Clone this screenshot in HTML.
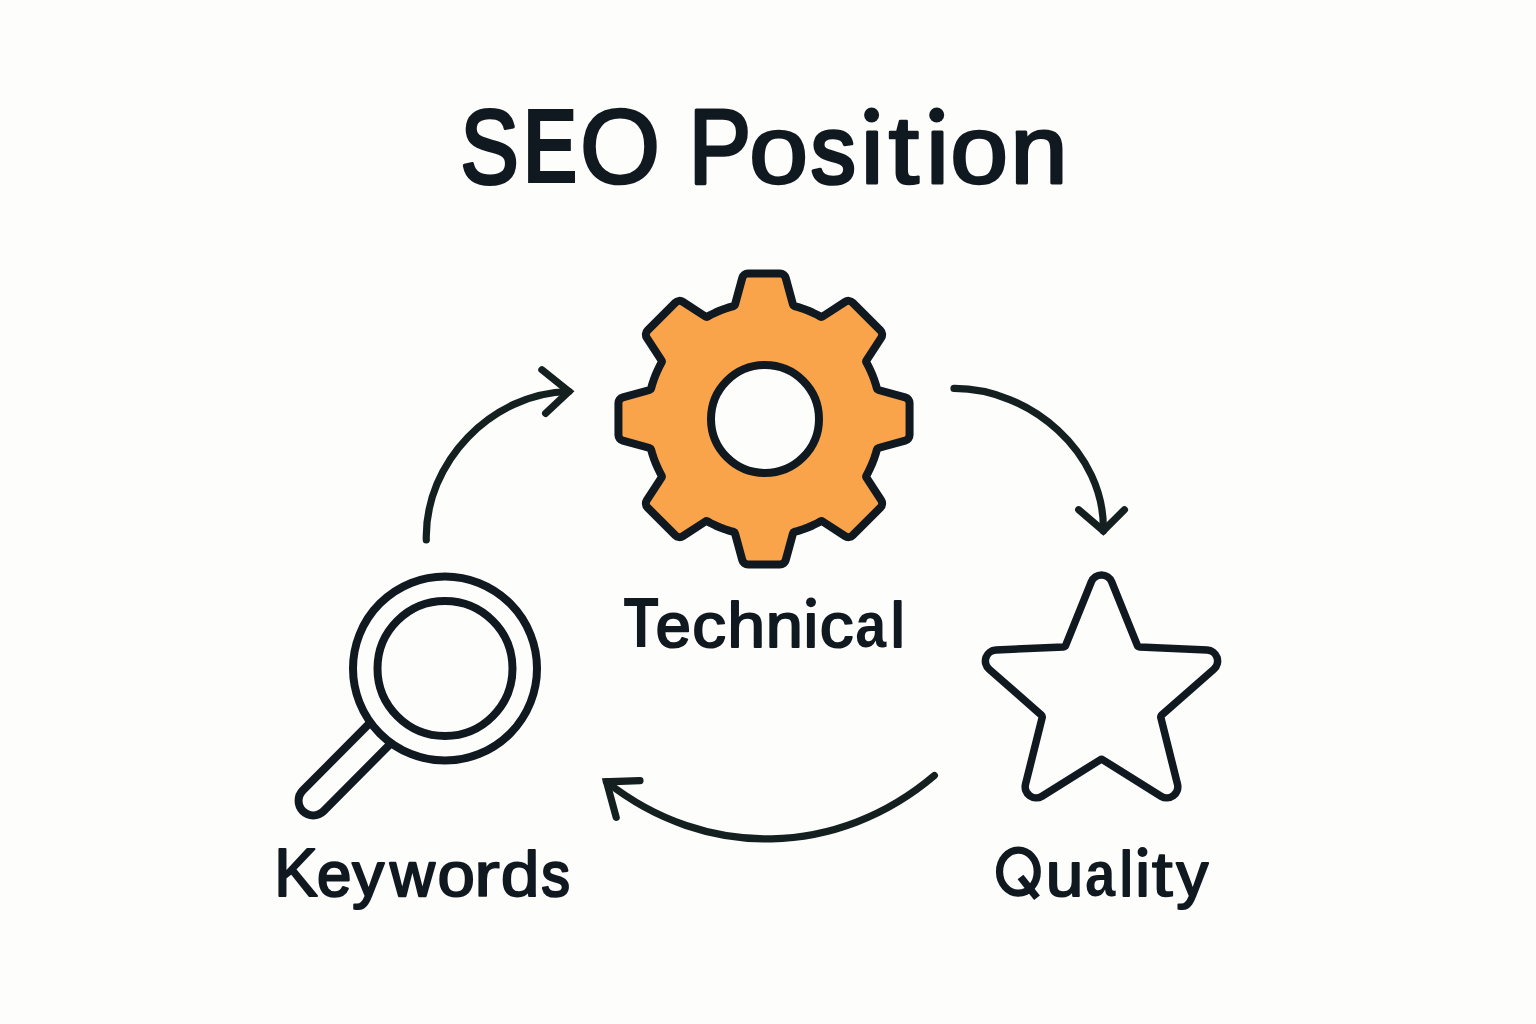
<!DOCTYPE html>
<html><head><meta charset="utf-8"><style>
html,body{margin:0;padding:0;background:#fdfdfb;}
svg{display:block}
</style></head><body>
<svg width="1536" height="1024" viewBox="0 0 1536 1024">
<rect width="1536" height="1024" fill="#fdfdfb"/>
<g font-family="'Liberation Sans', sans-serif" fill="#111920" stroke="#111920" stroke-linejoin="round">
<text transform="translate(460.55 182.50) scale(0.8262 0.9929)" font-size="105.50" font-weight="400" stroke-width="3.90">S</text>
<text transform="translate(522.51 182.50) scale(0.7924 1.0195)" font-size="105.50" font-weight="700" stroke-width="0.00">E</text>
<text transform="translate(579.72 182.50) scale(0.9824 1.0009)" font-size="105.50" font-weight="400" stroke-width="2.70">O</text>
<text transform="translate(688.60 182.50) scale(0.8917 0.9962)" font-size="105.50" font-weight="400" stroke-width="3.40">P</text>
<text transform="translate(749.04 182.50) scale(1.0092 0.9171)" font-size="105.50" font-weight="400" stroke-width="2.80">o</text>
<text transform="translate(810.70 182.50) scale(0.8540 0.9076)" font-size="105.50" font-weight="400" stroke-width="4.00">s</text>
<circle cx="871.60" cy="115.00" r="7.50" stroke="none"/>
<text transform="translate(858.25 182.50) scale(0.9469 0.9123)" font-size="105.50" font-weight="400" stroke-width="3.40">ı</text>
<text transform="translate(888.59 182.50) scale(1.0460 0.9187)" font-size="105.50" font-weight="400" stroke-width="2.60">t</text>
<circle cx="936.70" cy="115.00" r="7.50" stroke="none"/>
<text transform="translate(923.38 182.50) scale(0.9548 0.9123)" font-size="105.50" font-weight="400" stroke-width="3.40">ı</text>
<text transform="translate(950.21 182.50) scale(0.9865 0.9155)" font-size="105.50" font-weight="400" stroke-width="3.00">o</text>
<text transform="translate(1010.26 182.50) scale(0.9788 0.9147)" font-size="105.50" font-weight="400" stroke-width="3.10">n</text>
<text transform="translate(623.55 647.10) scale(0.8491 1.0260)" font-size="68.00" font-weight="700" stroke-width="0.00">T</text>
<text transform="translate(655.63 647.10) scale(0.9269 0.9266)" font-size="68.00" font-weight="400" stroke-width="2.40">e</text>
<text transform="translate(692.37 647.10) scale(0.9930 0.9303)" font-size="68.00" font-weight="400" stroke-width="2.10">c</text>
<text transform="translate(727.37 647.10) scale(1.0037 0.9316)" font-size="68.00" font-weight="400" stroke-width="2.00">h</text>
<text transform="translate(765.80 647.10) scale(0.9811 0.9303)" font-size="68.00" font-weight="400" stroke-width="2.10">n</text>
<circle cx="811.00" cy="602.30" r="4.90" stroke="none"/>
<text transform="translate(801.84 647.10) scale(0.9662 0.9291)" font-size="68.00" font-weight="400" stroke-width="2.20">ı</text>
<text transform="translate(819.67 647.10) scale(0.9930 0.9303)" font-size="68.00" font-weight="400" stroke-width="2.10">c</text>
<text transform="translate(855.27 647.10) scale(0.8191 0.9575)" font-size="68.00" font-weight="700" stroke-width="0.00">a</text>
<text transform="translate(890.58 647.10) scale(0.9539 0.9291)" font-size="68.00" font-weight="400" stroke-width="2.20">l</text>
<text transform="translate(273.88 895.70) scale(0.9655 1.0045)" font-size="68.00" font-weight="400" stroke-width="2.00">K</text>
<text transform="translate(316.91 895.70) scale(0.9097 0.9253)" font-size="68.00" font-weight="400" stroke-width="2.50">e</text>
<text transform="translate(352.22 895.70) scale(0.9376 0.9266)" font-size="68.00" font-weight="400" stroke-width="2.40">y</text>
<text transform="translate(389.98 895.70) scale(0.9128 0.9253)" font-size="68.00" font-weight="400" stroke-width="2.50">w</text>
<text transform="translate(437.52 895.70) scale(0.9881 0.9303)" font-size="68.00" font-weight="400" stroke-width="2.10">o</text>
<text transform="translate(473.86 895.70) scale(1.1630 0.9392)" font-size="68.00" font-weight="400" stroke-width="1.40">r</text>
<text transform="translate(500.85 895.70) scale(1.0252 0.9329)" font-size="68.00" font-weight="400" stroke-width="1.90">d</text>
<text transform="translate(541.53 895.70) scale(0.8326 0.9204)" font-size="68.00" font-weight="400" stroke-width="2.90">s</text>
<ellipse cx="1018.4" cy="871.7" rx="18.85" ry="21.5" fill="none" stroke-width="7.2"/><line x1="1020.5" y1="877" x2="1037" y2="897.7" stroke-width="7.4"/>
<text transform="translate(1045.75 895.50) scale(0.9940 0.9303)" font-size="68.00" font-weight="400" stroke-width="2.10">u</text>
<text transform="translate(1085.00 895.50) scale(0.8026 0.9575)" font-size="68.00" font-weight="700" stroke-width="0.00">a</text>
<text transform="translate(1119.28 895.50) scale(0.9277 0.9316)" font-size="68.00" font-weight="400" stroke-width="2.00">l</text>
<circle cx="1142.50" cy="852.00" r="4.90" stroke="none"/>
<text transform="translate(1133.54 895.50) scale(0.9662 0.9291)" font-size="68.00" font-weight="400" stroke-width="2.20">ı</text>
<text transform="translate(1151.74 895.50) scale(1.1126 0.9367)" font-size="68.00" font-weight="400" stroke-width="1.60">t</text>
<text transform="translate(1176.46 895.50) scale(0.9307 0.9266)" font-size="68.00" font-weight="400" stroke-width="2.40">y</text>
</g>
<path d="M733.62 306.03 A2 2 0 0 0 735 304.63L742.3 277.86 A6 6 0 0 1 748.08 273.44L779.92 273.44 A6 6 0 0 1 785.7 277.86L793 304.63 A2 2 0 0 0 794.38 306.03L798.21 307.11L803.06 308.71L807.83 310.52L812.52 312.53L817.12 314.75L820.57 316.61 A2 2 0 0 0 822.61 316.52L845.09 301.85 A6 6 0 0 1 852.61 302.63L880.37 330.39 A6 6 0 0 1 881.15 337.91L866.48 360.39 A2 2 0 0 0 866.39 362.43L868.25 365.88L870.47 370.48L872.48 375.17L874.29 379.94L875.89 384.79L876.97 388.62 A2 2 0 0 0 878.37 390L905.14 397.3 A6 6 0 0 1 909.56 403.08L909.56 434.92 A6 6 0 0 1 905.14 440.7L878.37 448 A2 2 0 0 0 876.97 449.38L875.89 453.21L874.29 458.06L872.48 462.83L870.47 467.52L868.25 472.12L866.39 475.57 A2 2 0 0 0 866.48 477.61L881.15 500.09 A6 6 0 0 1 880.37 507.61L852.61 535.37 A6 6 0 0 1 845.09 536.15L822.61 521.48 A2 2 0 0 0 820.57 521.39L817.12 523.25L812.52 525.47L807.83 527.48L803.06 529.29L798.21 530.89L794.38 531.97 A2 2 0 0 0 793 533.37L785.7 560.14 A6 6 0 0 1 779.92 564.56L748.08 564.56 A6 6 0 0 1 742.3 560.14L735 533.37 A2 2 0 0 0 733.62 531.97L729.79 530.89L724.94 529.29L720.17 527.48L715.48 525.47L710.88 523.25L707.43 521.39 A2 2 0 0 0 705.39 521.48L682.91 536.15 A6 6 0 0 1 675.39 535.37L647.63 507.61 A6 6 0 0 1 646.85 500.09L661.52 477.61 A2 2 0 0 0 661.61 475.57L659.75 472.12L657.53 467.52L655.52 462.83L653.71 458.06L652.11 453.21L651.03 449.38 A2 2 0 0 0 649.63 448L622.86 440.7 A6 6 0 0 1 618.44 434.92L618.44 403.08 A6 6 0 0 1 622.86 397.3L649.63 390 A2 2 0 0 0 651.03 388.62L652.11 384.79L653.71 379.94L655.52 375.17L657.53 370.48L659.75 365.88L661.61 362.43 A2 2 0 0 0 661.52 360.39L646.85 337.91 A6 6 0 0 1 647.63 330.39L675.39 302.63 A6 6 0 0 1 682.91 301.85L705.39 316.52 A2 2 0 0 0 707.43 316.61L710.88 314.75L715.48 312.53L720.17 310.52L724.94 308.71L729.79 307.11Z" fill="#f9a34b" stroke="#111920" stroke-width="8" stroke-linejoin="round"/>
<circle cx="765" cy="419" r="54" fill="#fdfdfb" stroke="#111920" stroke-width="8"/>
<path d="M1091.3 581.79 A11 11 0 0 1 1111.7 581.79L1137.34 645.35 A2.5 2.5 0 0 0 1139.55 646.91L1207.09 650.01 A11 11 0 0 1 1213.85 669.26L1161.61 715.15 A2.5 2.5 0 0 0 1160.84 717.64L1177.47 784.21 A11 11 0 0 1 1160.97 796.2L1102.83 759.83 A2.5 2.5 0 0 0 1100.17 759.83L1042.03 796.2 A11 11 0 0 1 1025.53 784.21L1042.16 717.64 A2.5 2.5 0 0 0 1041.39 715.15L989.15 669.26 A11 11 0 0 1 995.91 650.01L1063.45 646.91 A2.5 2.5 0 0 0 1065.66 645.35Z" fill="none" stroke="#111920" stroke-width="7.5" stroke-linejoin="round"/>
<circle cx="445" cy="668.5" r="92" fill="none" stroke="#111920" stroke-width="8"/>
<circle cx="445" cy="668.5" r="67.5" fill="none" stroke="#111920" stroke-width="8"/>
<path d="M370.42 722.36 L302.84 790.44 A14.65 14.65 0 0 0 323.56 811.16 L391.14 743.08" fill="none" stroke="#111920" stroke-width="8" stroke-linejoin="round"/>
<g fill="none" stroke="#142020" stroke-width="7.2" stroke-linecap="round" stroke-linejoin="miter">
<path d="M426.3 540 C424.35 462.24 491.7 392.96 569 391.5"/><path d="M541.9 369.7 L569 391.5 L545.6 413.4"/>
<path d="M954 388.4 C1029.85 388.16 1105.4 452.61 1103.3 530.8"/><path d="M1078.7 509.7 L1103.3 530.8 L1124.4 509.7"/>
<path d="M934.4 775.5 C838.17 857.3 705.85 860.44 606.5 781.8"/><path d="M640 780.7 L606.5 781.8 L616.2 817.4"/>
</g>
</svg>
</body></html>
